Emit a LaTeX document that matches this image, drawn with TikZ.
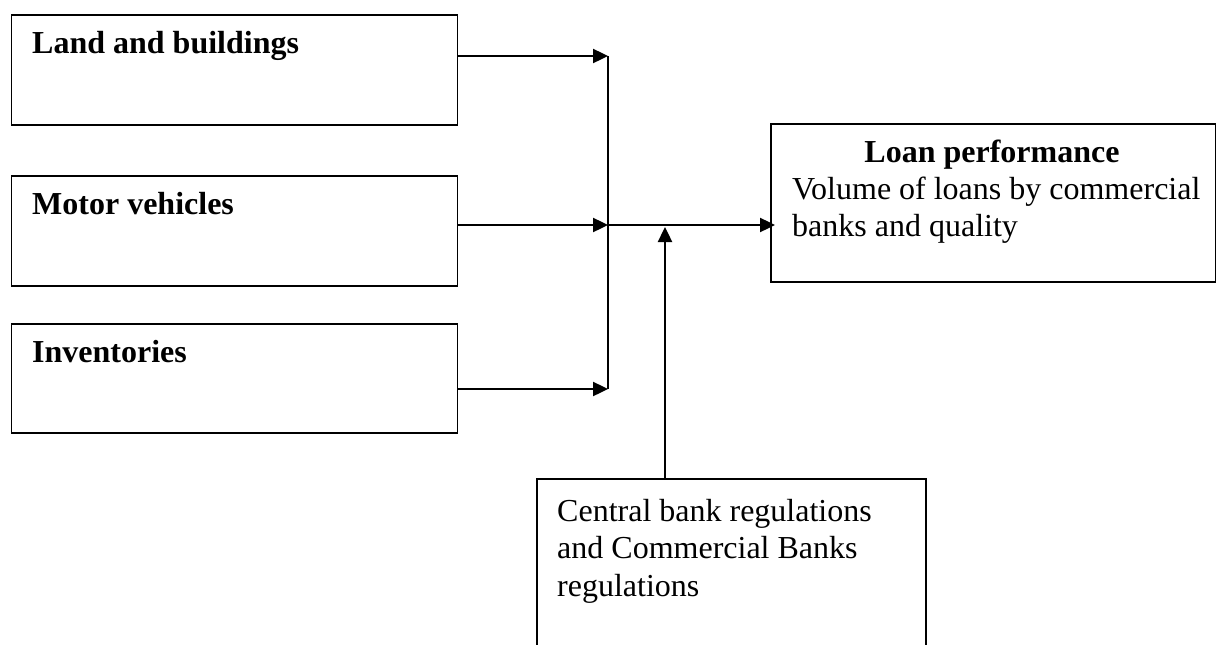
\documentclass[tikz,border=0pt]{standalone}
\usepackage{fontspec}
\setmainfont{Liberation Serif}
\usepackage{tikz}
\usetikzlibrary{arrows.meta}

\begin{document}
\begin{tikzpicture}[x=1pt,y=-1pt,
		box/.style={draw, line width=1.6pt, anchor=north west, inner sep=0pt},
		lbl/.style={anchor=base west, inner sep=0pt, align=left, font=\fontsize{32}{37.5}\selectfont},
		arr/.style={line width=2.4pt, -{Triangle[length=15pt,width=14pt]}}]
		\useasboundingbox (0,0) rectangle (1216,645);
		\clip (0,0) rectangle (1216,645);

		% Boxes
		\node[box, minimum width=446pt, minimum height=110pt] (land) at (10.7,14) {};
		\node[box, minimum width=446pt, minimum height=110pt] (motor) at (10.7,175) {};
		\node[box, minimum width=446pt, minimum height=109pt] (inv) at (10.7,323) {};
		\node[box, minimum width=445pt, minimum height=158pt] (loan) at (770,123) {};
		\node[box, minimum width=389pt, minimum height=220pt] (ctrl) at (536,478) {};

		% Texts (base of a multi-line node is its last line)
		\node[lbl] (landtxt) at (32,53) {\textbf{Land and buildings}};
		\node[lbl] (motortxt) at (32,214) {\textbf{Motor vehicles}};
		\node[lbl] (invtxt) at (32,362) {\textbf{Inventories}};
		\node[lbl, anchor=base] (loanhead) at (992,162) {\textbf{Loan performance}};
		\node[lbl] (loantxt) at (792,236.5) {Volume of loans by commercial\\banks and quality};
		\node[lbl] (ctrltxt) at (557,596) {Central bank regulations\\and Commercial Banks\\regulations};

		% Junction points
		\coordinate (jtop) at (608,56);
		\coordinate (jmid) at (608,225);
		\coordinate (jbot) at (608,389);
		\coordinate (up) at (665,227);

		% Arrows
		\draw[arr] (land.east |- jtop) -- (jtop);
		\draw[arr] (motor.east |- jmid) -- (jmid);
		\draw[arr] (inv.east |- jbot) -- (jbot);
		\draw[line width=1.6pt] (jtop) -- (jbot);
		\draw[arr] (jmid) -- ([xshift=5pt]loan.west |- jmid);
		\draw[arr] (up |- ctrl.north) -- (up);
	\end{tikzpicture}
\end{document}
